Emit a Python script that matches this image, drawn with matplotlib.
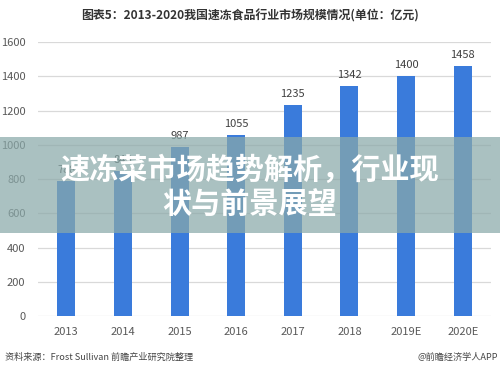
import matplotlib
matplotlib.use("Agg")
import matplotlib.pyplot as plt
from matplotlib.patches import Rectangle

plt.rcParams['font.family'] = ['Noto Sans CJK SC', 'DejaVu Sans']

# data
years = ['2013', '2014', '2015', '2016', '2017', '2018', '2019E', '2020E']
values = [788, 846, 987, 1055, 1235, 1342, 1400, 1458]
yticks = [0, 200, 400, 600, 800, 1000, 1200, 1400, 1600]

title = '图表5：2013-2020我国速冻食品行业市场规模情况(单位：亿元)'
source = '资料来源：Frost Sullivan 前瞻产业研究院整理'
credit = '@前瞻经济学人APP'
banner = '速冻菜市场趋势解析，行业现\n状与前景展望'

fig = plt.figure(figsize=(5, 3.72), dpi=100)
ax = fig.add_axes([0.076, 0.1505, 0.906, 0.7365])

x = range(len(years))
bars = ax.bar(x, values, width=0.32, color='#3a7bdb', zorder=3)
for xi, v in zip(x, values):
    ax.text(xi, v + 35, str(v), ha='center', va='bottom', fontsize=8, color='#404040', zorder=4)

ax.set_xlim(-0.5, 7.5)
ax.set_ylim(0, 1600)
ax.set_yticks(yticks)
ax.set_xticks(list(x))
ax.set_xticklabels(years)
ax.grid(axis='y', color='#d9d9d9', linewidth=0.9, zorder=0)
for s in ax.spines.values():
    s.set_visible(False)
ax.tick_params(length=0, labelsize=8, labelcolor='#595959')
ax.tick_params(axis='y', pad=9)
ax.tick_params(axis='x', pad=8)

fig.text(0.5, 0.958, title, ha='center', va='center', fontsize=8.6, fontweight='bold', color='#333333')
fig.text(0.01, 0.04, source, ha='left', va='center', fontsize=6.6, color='#444444')
fig.text(0.995, 0.04, credit, ha='right', va='center', fontsize=6.6, color='#444444')

# overlay banner
fig.patches.append(Rectangle((0, 1 - 233 / 372), 1, 96 / 372, transform=fig.transFigure,
                             facecolor='#8aa9a9', alpha=0.72, zorder=5))
fig.text(0.5, 1 - 187 / 372, banner, ha='center', va='center', fontsize=21, fontweight='bold',
         color='white', linespacing=1.15, zorder=6)

fig.savefig('out.png', dpi=100)
